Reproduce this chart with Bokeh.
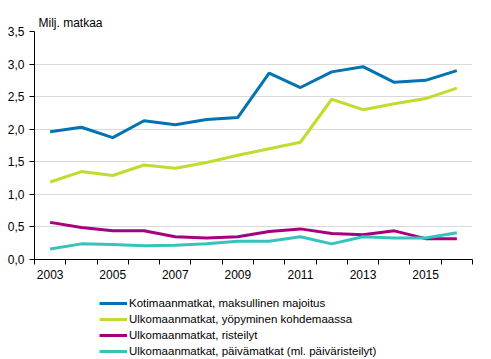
from bokeh.plotting import figure
from bokeh.models import FixedTicker, Legend, LegendItem
from bokeh.layouts import column
from bokeh.embed import file_html
from bokeh.resources import INLINE

years = list(range(2003, 2017))
kotimaan = [1.96, 2.03, 1.87, 2.13, 2.07, 2.15, 2.18, 2.86, 2.64, 2.88, 2.96, 2.72, 2.75, 2.90]
yopyminen = [1.19, 1.35, 1.29, 1.45, 1.40, 1.49, 1.60, 1.70, 1.80, 2.46, 2.30, 2.39, 2.47, 2.63]
risteilyt = [0.57, 0.49, 0.44, 0.44, 0.35, 0.33, 0.35, 0.43, 0.47, 0.40, 0.38, 0.44, 0.32, 0.32]
paivamatkat = [0.16, 0.24, 0.23, 0.21, 0.22, 0.24, 0.28, 0.28, 0.35, 0.24, 0.35, 0.33, 0.33, 0.41]

series_names = [
    "Kotimaanmatkat, maksullinen majoitus",
    "Ulkomaanmatkat, yöpyminen kohdemaassa",
    "Ulkomaanmatkat, risteilyt",
    "Ulkomaanmatkat, päivämatkat (ml. päiväristeilyt)",
]
series_values = [kotimaan, yopyminen, risteilyt, paivamatkat]
colors = ["#0073B0", "#C5DA2E", "#A5007E", "#35C3BB"]

x_labels = [2003, 2005, 2007, 2009, 2011, 2013, 2015]
y_ticks = [0.0, 0.5, 1.0, 1.5, 2.0, 2.5, 3.0, 3.5]
y_tick_labels = ["0,0", "0,5", "1,0", "1,5", "2,0", "2,5", "3,0", "3,5"]
title_text = "Milj. matkaa"

FONT = "Liberation Sans"

p = figure(width=491, height=290, output_backend="svg", toolbar_location=None,
           x_range=(2002.5, 2016.5), y_range=(0, 3.5),
           min_border_left=34, min_border_right=19, min_border_top=31, min_border_bottom=31)
p.outline_line_color = None
p.background_fill_color = "white"
p.border_fill_color = "white"

p.title.text = title_text
p.title.text_font = FONT
p.title.text_font_size = "12px"
p.title.text_font_style = "normal"
p.title.text_color = "#000000"
p.title.align = "left"
p.title.offset = 4
p.title.standoff = 4

for vals, col in zip(series_values, colors):
    p.line(years, vals, line_color=col, line_width=3)

p.xgrid.visible = False
p.ygrid.grid_line_color = "#b4b4b4"
p.ygrid.grid_line_dash = "1 1"
p.ygrid.grid_line_width = 1

p.xaxis.ticker = FixedTicker(ticks=x_labels, minor_ticks=[y + 0.5 for y in range(2002, 2017)])
p.xaxis.major_tick_out = 0
p.xaxis.major_tick_in = 0
p.xaxis.minor_tick_out = 5
p.xaxis.minor_tick_in = 0
p.xaxis.minor_tick_line_color = "black"
p.xaxis.axis_line_color = "black"
p.xaxis.major_label_standoff = 5
p.xaxis.major_label_text_font = FONT
p.xaxis.major_label_text_font_size = "12px"
p.xaxis.major_label_text_color = "black"

p.yaxis.ticker = FixedTicker(ticks=y_ticks, minor_ticks=[])
p.yaxis.major_label_overrides = {t: l for t, l in zip(y_ticks, y_tick_labels)}
p.yaxis.major_tick_out = 5
p.yaxis.major_tick_in = 0
p.yaxis.major_tick_line_color = "black"
p.yaxis.axis_line_color = "black"
p.yaxis.major_label_standoff = 5
p.yaxis.major_label_text_font = FONT
p.yaxis.major_label_text_font_size = "12px"
p.yaxis.major_label_text_color = "black"

# Legend figure below the chart
lf = figure(width=491, height=69, output_backend="svg", toolbar_location=None,
            x_axis_type=None, y_axis_type=None, min_border=0,
            x_range=(2002.5, 2016.5), y_range=(0, 3.5))
lf.outline_line_color = None
lf.xgrid.visible = False
lf.ygrid.visible = False
lrs = []
for vals, col in zip(series_values, colors):
    r = lf.line(years, vals, line_color=col, line_width=3, visible=False)
    lrs.append(r)

legend = Legend(items=[LegendItem(label=n, renderers=[r]) for n, r in zip(series_names, lrs)],
                location=(65, 1), orientation="vertical")
legend.label_text_font = FONT
legend.label_text_font_size = "11.5px"
legend.label_text_color = "black"
legend.glyph_width = 28
legend.glyph_height = 14
legend.label_height = 14
legend.label_standoff = 2
legend.spacing = 2
legend.padding = 2
legend.margin = 0
legend.border_line_color = None
legend.background_fill_alpha = 0
legend.inactive_fill_alpha = 0
lf.add_layout(legend, "center")

layout = column(p, lf, spacing=0)
open("out.html", "w").write(file_html(layout, INLINE))
